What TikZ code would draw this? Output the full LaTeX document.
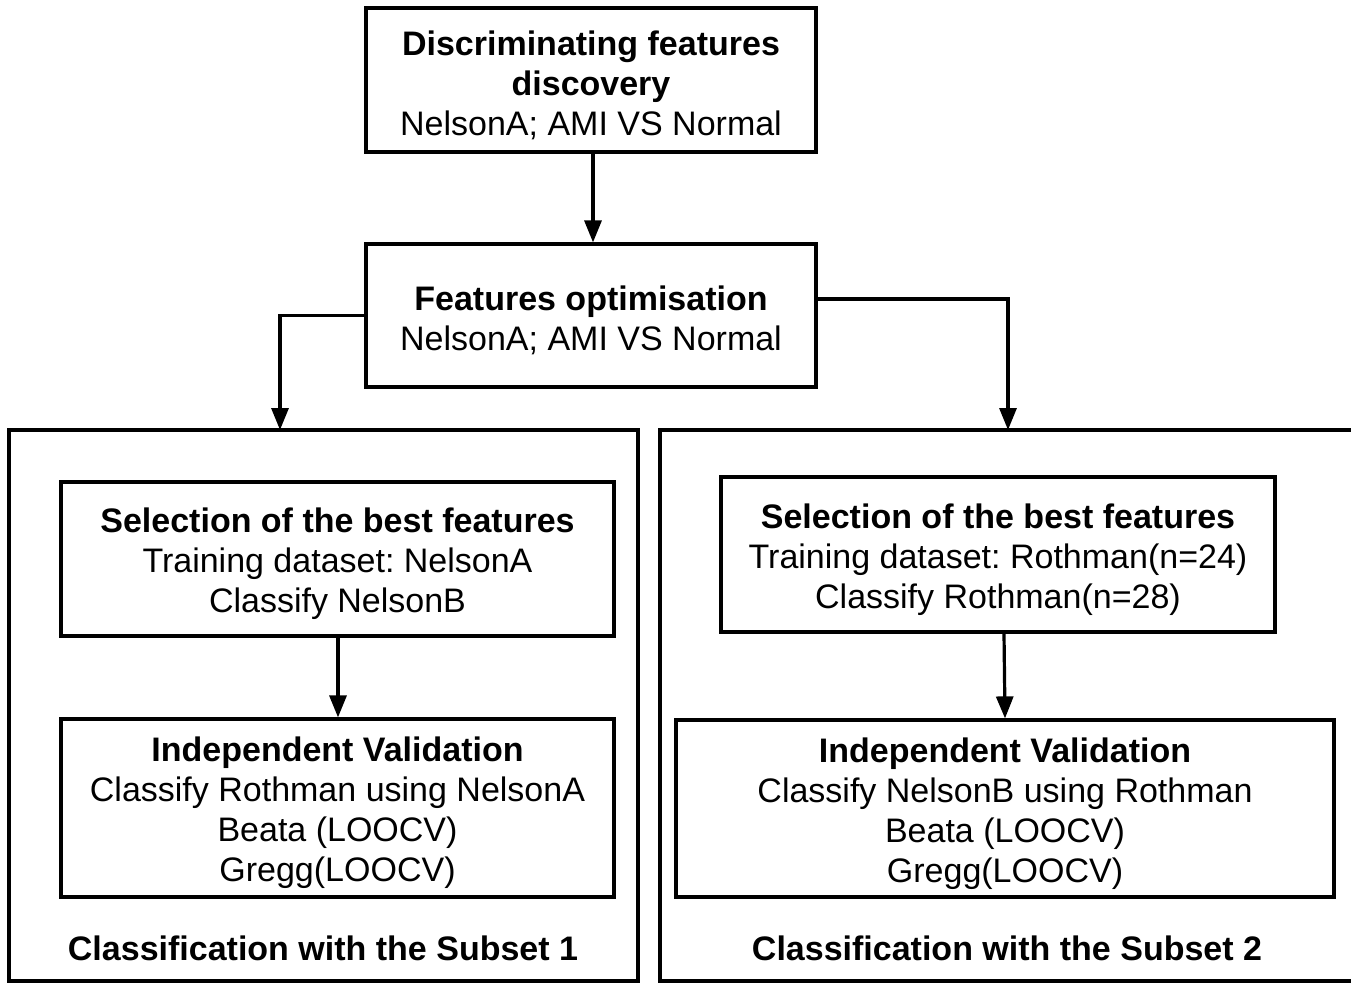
\documentclass[tikz,border=0pt]{standalone}
\usepackage{fontspec}
\setmainfont{Liberation Sans}
\usetikzlibrary{arrows.meta}
\newcommand{\tstrut}{\rule{0pt}{35pt}}
\tikzset{
  x=1pt, y=-1pt,
  box/.style={draw, line width=3.2pt, align=center, inner sep=0pt,
    font=\fontsize{34}{40}\selectfont\frenchspacing},
  frame/.style={draw, line width=3.2pt},
  conn/.style={line width=3.2pt, -{Triangle[length=22pt,width=17pt]}},
  lbl/.style={font=\fontsize{34}{40}\selectfont\bfseries, inner sep=0pt}
}
\begin{document}
\begin{tikzpicture}
\useasboundingbox (0,0) rectangle (1351,983);
\clip (0,0) rectangle (1351,983);
% outer frames
\draw[frame] (9,981) -- (9,430) -- (638,430) -- (638,981) -- cycle;
\draw[frame] (1380,430) -- (660,430) -- (660,981) -- (1380,981);
\node[lbl] (s1) at (323,948) {Classification with the Subset 1};
\node[lbl] (s2) at (1007,948) {Classification with the Subset 2};
% top boxes
\node[box, minimum width=450pt, minimum height=144pt] (b1) at (591,80)
  {\tstrut\textbf{Discriminating features}\\\textbf{discovery}\\NelsonA; AMI VS Normal};
\node[box, minimum width=450pt, minimum height=143pt] (b2) at (591,315.5)
  {\tstrut\textbf{Features optimisation}\\NelsonA; AMI VS Normal};
% left inner
\node[box, minimum width=553pt, minimum height=154pt] (l1) at (337.5,559)
  {\tstrut\textbf{Selection of the best features}\\Training dataset: NelsonA\\Classify NelsonB};
\node[box, minimum width=553pt, minimum height=178pt] (l2) at (337.5,808)
  {\tstrut\textbf{Independent Validation}\\Classify Rothman using NelsonA\\Beata (LOOCV)\\Gregg(LOOCV)};
% right inner
\node[box, minimum width=554pt, minimum height=155pt] (r1) at (998,554.5)
  {\tstrut\textbf{Selection of the best features}\\Training dataset: Rothman(n=24)\\Classify Rothman(n=28)};
\node[box, minimum width=658pt, minimum height=177pt] (r2) at (1005,808.5)
  {\tstrut\textbf{Independent Validation}\\Classify NelsonB using Rothman\\Beata (LOOCV)\\Gregg(LOOCV)};
% connector endpoints
\coordinate (tl) at (280,430);
\coordinate (tr) at (1008,430);
% connectors
\draw[conn] (b1.south -| 593,0) -- (b2.north -| 593,0);
\draw[conn] (b2.west) -| (tl);
\draw[conn] (b2.east |- 0,299) -| (tr);
\draw[conn] (l1.south -| 338,0) -- (l2.north -| 338,0);
\draw[conn] (r1.south -| 1004,0) -- (r2.north -| 1005,0);
\end{tikzpicture}
\end{document}
